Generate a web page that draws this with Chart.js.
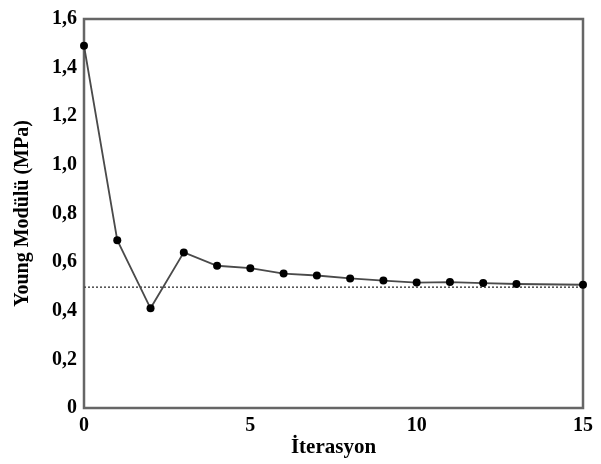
<!DOCTYPE html>
<html>
<head>
<meta charset="utf-8">
<script src="https://cdn.jsdelivr.net/npm/chart.js@4/dist/chart.umd.min.js"></script>
<style>
  html, body { margin: 0; padding: 0; background: #fff; }
  #wrap { width: 601px; height: 464px; }
</style>
</head>
<body>
<div id="wrap"><canvas id="chart" width="601" height="464"></canvas></div>
<script>
// Dados
const iteracoes = [0, 1, 2, 3, 4, 5, 6, 7, 8, 9, 10, 11, 12, 13, 15];
const moduloYoung = [1.49, 0.69, 0.41, 0.64, 0.585, 0.575, 0.553, 0.545, 0.533, 0.524, 0.516, 0.518, 0.514, 0.51, 0.507];
const valorReferencia = 0.497;
const limitesX = [0, 15];

const fonteSerif = "'Liberation Serif', 'DejaVu Serif', serif";
const corLinha = "#4a4a4a";

// Moldura em volta da área do gráfico
const moldura = {
  id: "moldura",
  beforeDatasetsDraw(c) {
    const a = c.chartArea;
    const ctx = c.ctx;
    ctx.save();
    ctx.strokeStyle = "#666";
    ctx.lineWidth = 2.5;
    ctx.strokeRect(a.left, a.top, a.right - a.left, a.bottom - a.top);
    ctx.restore();
  }
};

const chart = new Chart(document.getElementById("chart"), {
  type: "line",
  data: {
    datasets: [
      {
        data: iteracoes.map((x, i) => ({ x, y: moduloYoung[i] })),
        borderColor: corLinha,
        borderWidth: 1.8,
        pointRadius: 4,
        pointBackgroundColor: "#000",
        pointBorderColor: "#000",
        pointBorderWidth: 0,
        tension: 0,
        clip: false
      },
      {
        data: limitesX.map(x => ({ x, y: valorReferencia })),
        borderColor: corLinha,
        borderWidth: 1.5,
        borderDash: [2, 2],
        pointRadius: 0,
        tension: 0
      }
    ]
  },
  options: {
    responsive: false,
    animation: false,
    layout: { padding: { left: 0, right: 18, top: 16, bottom: 0 } },
    plugins: { legend: { display: false }, tooltip: { enabled: false } },
    scales: {
      x: {
        type: "linear",
        min: 0,
        max: 15,
        grid: { display: false, drawTicks: false },
        border: { display: false },
        ticks: {
          stepSize: 5,
          padding: 6,
          color: "#000",
          font: { family: fonteSerif, size: 20, weight: "bold" }
        },
        title: {
          display: true,
          text: "İterasyon",
          color: "#000",
          padding: { top: 0, bottom: 4 },
          font: { family: fonteSerif, size: 21, weight: "bold" }
        },
        afterFit(s) { s.height = 56; }
      },
      y: {
        min: 0,
        max: 1.6,
        grid: { display: false, drawTicks: false },
        border: { display: false },
        ticks: {
          stepSize: 0.2,
          padding: 7,
          color: "#000",
          font: { family: fonteSerif, size: 20, weight: "bold" },
          callback: v => v === 0 ? "0" : v.toFixed(1).replace(".", ",")
        },
        title: {
          display: true,
          text: "Young Modülü (MPa)",
          color: "#000",
          padding: { top: 11, bottom: 0 },
          font: { family: fonteSerif, size: 20, weight: "bold" }
        },
        afterFit(s) { s.width = 84; }
      }
    }
  },
  plugins: [moldura]
});
</script>
</body>
</html>
